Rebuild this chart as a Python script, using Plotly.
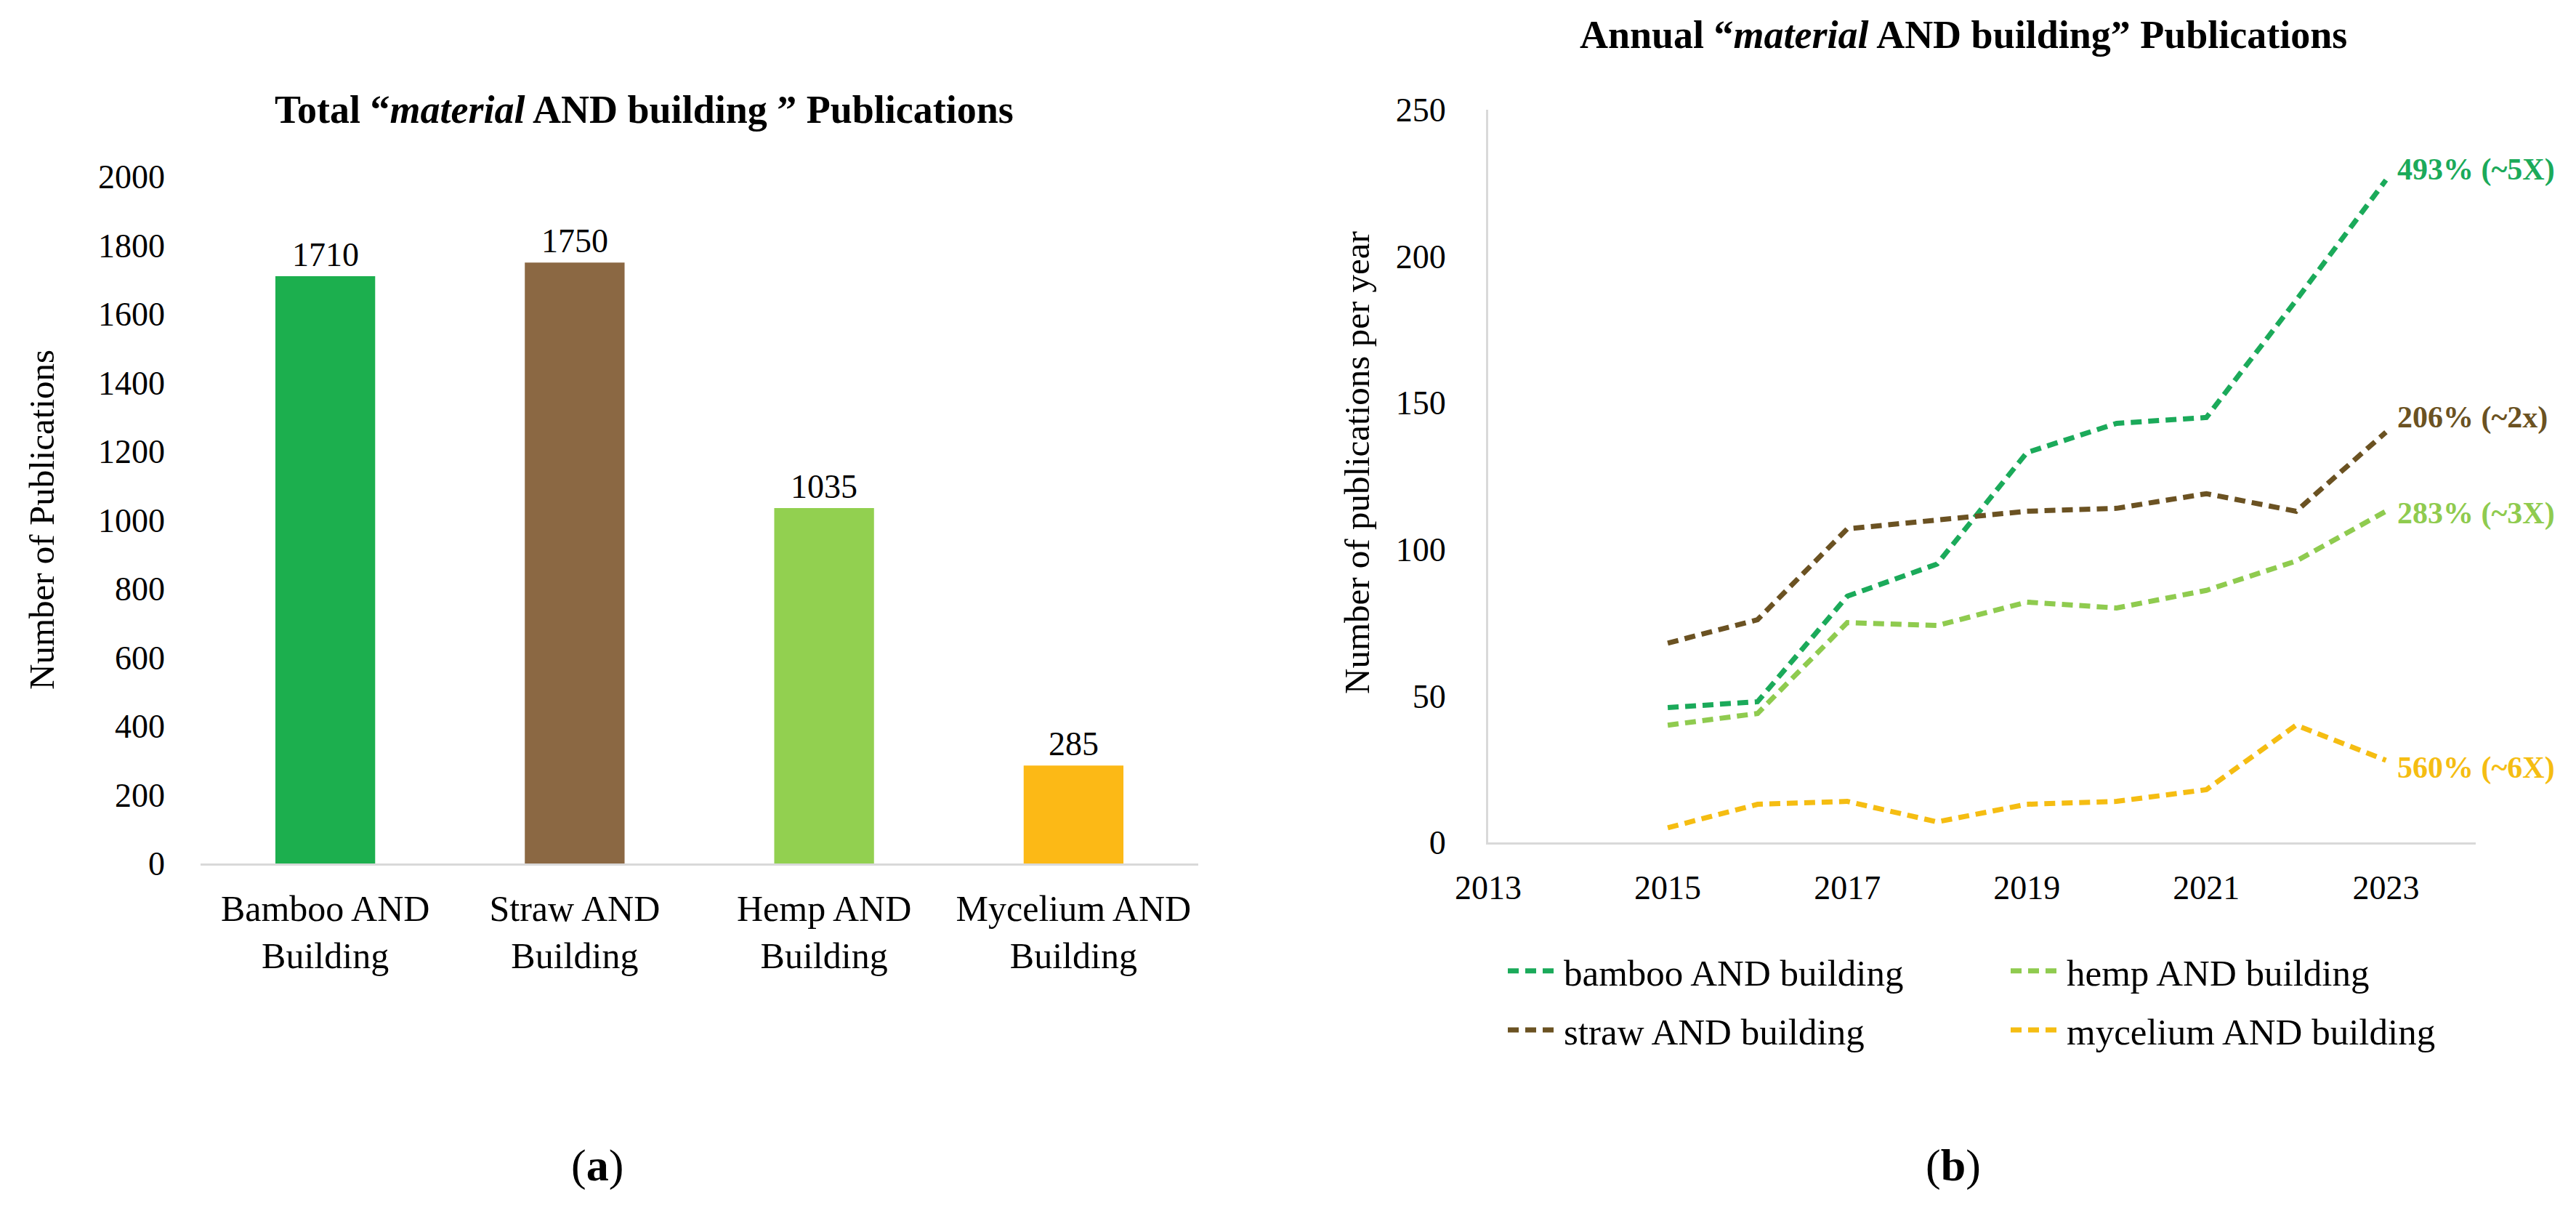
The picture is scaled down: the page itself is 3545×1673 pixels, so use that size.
import plotly.graph_objects as go

W, H = 3545, 1673
FONT = "Liberation Serif"

# ---------------- data ----------------
bar_categories = ["Bamboo AND<br>Building", "Straw AND<br>Building", "Hemp AND<br>Building", "Mycelium AND<br>Building"]
bar_values = [1710, 1750, 1035, 285]
bar_colors = ["#1CAF4E", "#8B6843", "#92D050", "#FCB916"]

years = [2015, 2016, 2017, 2018, 2019, 2020, 2021, 2022, 2023]
bamboo = [46, 48, 84, 95, 133, 143, 145, 185, 226]
straw = [68, 76, 107, 110, 113, 114, 119, 113, 140]
hemp = [40, 44, 75, 74, 82, 80, 86, 96, 113]
mycelium = [5, 13, 14, 7, 13, 14, 18, 40, 28]

series_names = ["bamboo AND building", "straw AND building", "hemp AND building", "mycelium AND building"]
series_values = [bamboo, straw, hemp, mycelium]
series_colors = ["#1BAA5A", "#6B5222", "#8FCB4F", "#F5BD12"]
series_legend = ["legend", "legend", "legend2", "legend2"]
growth_labels = ["493% (~5X)", "206% (~2x)", "283% (~3X)", "560% (~6X)"]
growth_yshift = [14, 20, -3, -10]

left_ticks = list(range(0, 2001, 200))
right_yticks = list(range(0, 251, 50))
right_xticks = list(range(2013, 2024, 2))

# ---------------- helpers ----------------
def px(x):
    return x / W

def py(y):
    return 1 - y / H

fig = go.Figure()

fig.add_trace(go.Bar(
    x=bar_categories, y=bar_values, marker=dict(color=bar_colors, line=dict(width=0)),
    showlegend=False, xaxis="x", yaxis="y", hoverinfo="skip",
))

for name, vals, col, lg in zip(series_names, series_values, series_colors, series_legend):
    fig.add_trace(go.Scatter(
        x=years, y=vals, mode="lines", name=name,
        line=dict(color=col, width=7, dash="15px,9px"),
        xaxis="x2", yaxis="y2", legend=lg, legendgroup=name,
    ))

annotations = []
# bar value labels
for cat, v in zip(bar_categories, bar_values):
    annotations.append(dict(
        x=cat, y=v, xref="x", yref="y", text=str(v), showarrow=False,
        xanchor="center", yanchor="bottom", yshift=2,
        font=dict(family=FONT, size=46, color="#000000"),
    ))
# growth labels at line ends
for lbl, vals, col, ys in zip(growth_labels, series_values, series_colors, growth_yshift):
    annotations.append(dict(
        x=years[-1], y=vals[-1], xref="x2", yref="y2", text="<b>%s</b>" % lbl,
        showarrow=False, xanchor="left", yanchor="middle", xshift=14, yshift=ys,
        font=dict(family=FONT, size=42, color=col),
    ))

annotations += [
    dict(x=px(878), y=py(143), xref="paper", yref="paper", showarrow=False,
         text="<b>Total “<i>material</i> AND building ” Publications</b>",
         font=dict(family=FONT, size=54, color="#000000"), xanchor="center", yanchor="middle"),
    dict(x=px(2694), y=py(40), xref="paper", yref="paper", showarrow=False,
         text="<b>Annual “<i>material</i> AND building” Publications</b>",
         font=dict(family=FONT, size=54, color="#000000"), xanchor="center", yanchor="middle"),
    dict(x=px(50), y=py(707), xref="paper", yref="paper", showarrow=False, textangle=-90,
         text="Number of Publications",
         font=dict(family=FONT, size=49, color="#000000"), xanchor="center", yanchor="middle"),
    dict(x=px(1860), y=py(628), xref="paper", yref="paper", showarrow=False, textangle=-90,
         text="Number of publications per year",
         font=dict(family=FONT, size=49, color="#000000"), xanchor="center", yanchor="middle"),
    dict(x=px(814), y=py(1595), xref="paper", yref="paper", showarrow=False,
         text="(<b>a</b>)", font=dict(family=FONT, size=62, color="#000000"),
         xanchor="center", yanchor="middle"),
    dict(x=px(2680), y=py(1595), xref="paper", yref="paper", showarrow=False,
         text="(<b>b</b>)", font=dict(family=FONT, size=62, color="#000000"),
         xanchor="center", yanchor="middle"),
]

tickfont = dict(family=FONT, size=46, color="#000000")
legfont = dict(family=FONT, size=51, color="#000000")

fig.update_layout(
    width=W, height=H, margin=dict(l=0, r=0, t=0, b=0),
    paper_bgcolor="white", plot_bgcolor="white",
    bargap=0.6,
    xaxis=dict(domain=[px(268), px(1641)], anchor="y", showline=True, linecolor="#D9D9D9",
               linewidth=3, ticks="", showgrid=False, zeroline=False,
               tickfont=dict(family=FONT, size=50, color="#000000"),
               ticklabelstandoff=16, automargin=False),
    yaxis=dict(domain=[py(1180), py(235)], anchor="x", range=[0, 2000], tickvals=left_ticks,
               showline=False, showgrid=False, zeroline=False, ticks="",
               tickfont=tickfont, ticklabelstandoff=48, automargin=False),
    xaxis2=dict(domain=[px(2040), px(3399)], anchor="y2", range=[2013, 2024], tickvals=right_xticks,
                showline=True, linecolor="#D9D9D9", linewidth=3, ticks="", showgrid=False,
                zeroline=False, tickfont=tickfont, ticklabelstandoff=20, automargin=False),
    yaxis2=dict(domain=[py(1151), py(143)], anchor="x2", range=[0, 250], tickvals=right_yticks,
                showline=True, linecolor="#D9D9D9", linewidth=3, ticks="", showgrid=False,
                zeroline=False, tickfont=tickfont, ticklabelstandoff=46, automargin=False),
    legend=dict(x=px(2062), y=py(1288), xanchor="left", yanchor="top", orientation="v",
                font=legfont, itemwidth=72, tracegroupgap=12, bgcolor="rgba(0,0,0,0)"),
    legend2=dict(x=px(2754), y=py(1288), xanchor="left", yanchor="top", orientation="v",
                 font=legfont, itemwidth=72, tracegroupgap=12, bgcolor="rgba(0,0,0,0)"),
    annotations=annotations,
    showlegend=True,
)

fig.write_html("out.html")
